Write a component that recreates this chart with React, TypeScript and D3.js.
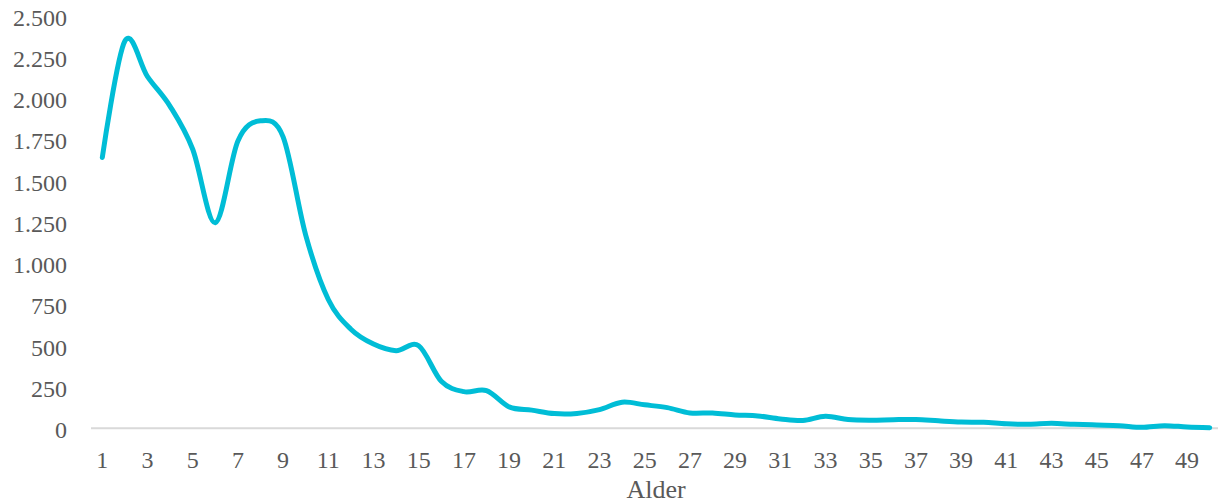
import React, { useRef, useEffect } from "react";
import * as d3 from "d3";

const ages: number[] = Array.from({ length: 50 }, (_, i) => i + 1);
const counts: number[] = [
  1640, 2345, 2130, 1950, 1690, 1245, 1740, 1862, 1765, 1170,
  780, 600, 510, 470, 500, 285, 222, 228, 130, 110,
  89, 90, 113, 158, 142, 125, 93, 93, 81, 75,
  57, 47, 73, 53, 49, 52, 53, 45, 38, 36,
  27, 24, 30, 24, 20, 16, 6, 16, 8, 4,
];
const yTicks: number[] = [0, 250, 500, 750, 1000, 1250, 1500, 1750, 2000, 2250, 2500];
const xTitle = "Alder";

const App = () => {
  const chartRef = useRef<SVGSVGElement>(null);

  const width = 1218,
    height = 504,
    marginLeft = 91,
    marginRight = -3,
    yTop = 15.5,
    yBottom = 428.3;

  useEffect(() => {
    if (!chartRef.current) return;
    const svg = d3.select(chartRef.current);
    svg.selectAll("*").remove();

    const fmt = d3
      .formatLocale({ decimal: ",", thousands: ".", grouping: [3], currency: ["", ""] })
      .format(",");

    const x = d3
      .scaleBand<number>()
      .domain(ages)
      .range([marginLeft, width - marginRight]);
    const y = d3.scaleLinear().domain([0, 2500]).range([yBottom, yTop]);
    const cx = (d: number) => (x(d) ?? 0) + x.bandwidth() / 2;

    const font = "'Liberation Serif', serif";

    // y tick labels
    svg
      .append("g")
      .selectAll("text")
      .data(yTicks)
      .join("text")
      .attr("x", 67)
      .attr("y", (d) => y(d) + 10)
      .attr("text-anchor", "end")
      .attr("fill", "#595959")
      .style("font", `24px ${font}`)
      .text((d) => fmt(d));

    // baseline
    svg
      .append("line")
      .attr("x1", marginLeft)
      .attr("x2", width - marginRight)
      .attr("y1", y(0))
      .attr("y2", y(0))
      .attr("stroke", "#d9d9d9")
      .attr("stroke-width", 2);

    // x tick labels (every other age)
    svg
      .append("g")
      .selectAll("text")
      .data(ages.filter((d) => d % 2 === 1))
      .join("text")
      .attr("x", cx)
      .attr("y", 468)
      .attr("text-anchor", "middle")
      .attr("fill", "#595959")
      .style("font", `24px ${font}`)
      .text((d) => String(d));

    svg
      .append("text")
      .attr("x", (marginLeft + width - marginRight) / 2)
      .attr("y", 498)
      .attr("text-anchor", "middle")
      .attr("fill", "#595959")
      .style("font", `26px ${font}`)
      .text(xTitle);

    const line = d3
      .line<number>()
      .x((_, i) => cx(ages[i]))
      .y((d) => y(d))
      .curve(d3.curveCardinal.tension(0));

    svg
      .append("path")
      .datum(counts)
      .attr("d", line)
      .attr("fill", "none")
      .attr("stroke", "#00BDD6")
      .attr("stroke-width", 5)
      .attr("stroke-linecap", "round")
      .attr("stroke-linejoin", "round");
  }, []);

  return (
    <div style={{ position: "fixed", left: 0, top: 0, background: "#fff" }}>
      <svg ref={chartRef} width={width} height={height}></svg>
    </div>
  );
};

export default App;
